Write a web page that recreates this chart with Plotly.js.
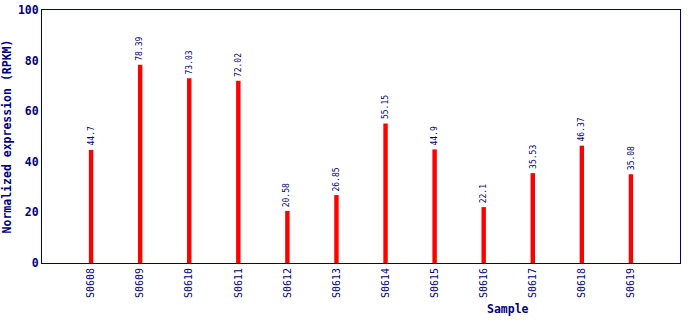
<!DOCTYPE html>
<html><head><meta charset="utf-8">
<script src="https://cdn.plot.ly/plotly-3.0.1.min.js"></script>
<style>body{margin:0;padding:0;background:#fff}</style>
</head><body>
<div id="chart" style="width:690px;height:320px"></div>
<script>
const samples = ["S0608","S0609","S0610","S0611","S0612","S0613","S0614","S0615","S0616","S0617","S0618","S0619"];
const values = [44.7,78.39,73.03,72.02,20.58,26.85,55.15,44.9,22.1,35.53,46.37,35.08];
const valueLabels = ["44.7","78.39","73.03","72.02","20.58","26.85","55.15","44.9","22.1","35.53","46.37","35.08"];
const yTicks = [0,20,40,60,80,100];

const navy = "#000080";
const mono = "DejaVu Sans Mono, monospace";

const labelAnnotations = samples.map((s, i) => ({
  x: s, y: values[i], xref: "x", yref: "y",
  text: valueLabels[i], showarrow: false, textangle: -90,
  xanchor: "center", yanchor: "bottom", yshift: 2,
  font: {family: mono, size: 8, color: navy}
}));

Plotly.newPlot("chart", [{
  type: "bar",
  x: samples,
  y: values,
  marker: {color: "#ff0000"},
  width: 0.09,
  hoverinfo: "none"
}], {
  width: 690, height: 320,
  margin: {l: 42, r: 10, t: 10, b: 57},
  paper_bgcolor: "#fff", plot_bgcolor: "#fff",
  showlegend: false,
  annotations: labelAnnotations.concat([{
    text: "<b>Sample</b>", xref: "paper", yref: "paper", x: 0.73, y: -0.182,
    xanchor: "center", yanchor: "middle", showarrow: false,
    font: {family: mono, size: 11.5, color: navy}
  }]),
  xaxis: {
    type: "category",
    range: [-1, 12],
    showline: true, mirror: true, linecolor: navy, linewidth: 1,
    showgrid: false, zeroline: false, ticks: "",
    tickangle: -90,
    tickfont: {family: mono, size: 10, color: navy}
  },
  yaxis: {
    range: [0, 100],
    tickvals: yTicks,
    showline: true, mirror: true, linecolor: navy, linewidth: 1,
    showgrid: false, zeroline: false, ticks: "",
    tickfont: {family: mono, size: 11.5, color: navy, weight: "bold"},
    title: {text: "<b>Normalized expression (RPKM)</b>", font: {family: mono, size: 11.5, color: navy}, standoff: 6}
  }
}, {displayModeBar: false, staticPlot: true});
</script>
</body></html>
